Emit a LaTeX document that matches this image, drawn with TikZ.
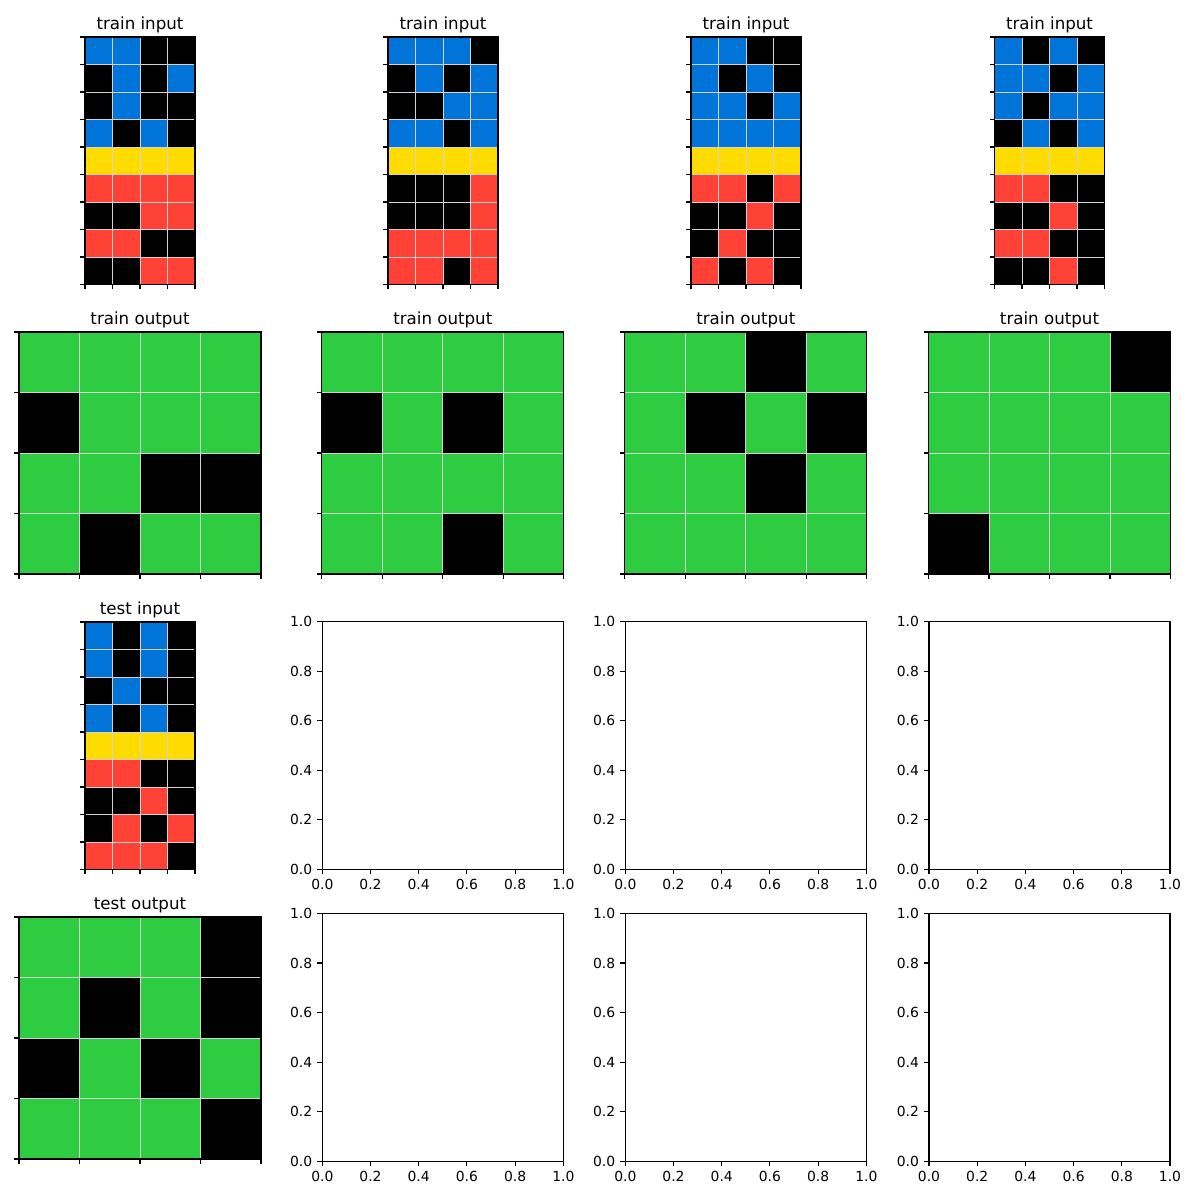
\documentclass[tikz,border=0pt]{standalone}
\usepackage{fontspec}
\setmainfont{DejaVu Sans}
\usetikzlibrary{positioning}
\definecolor{Arc0}{HTML}{000000}
\definecolor{Arc1}{HTML}{0074D9}
\definecolor{Arc2}{HTML}{FF4136}
\definecolor{Arc3}{HTML}{2ECC40}
\definecolor{Arc4}{HTML}{FFDC00}
\definecolor{GridGray}{HTML}{D3D3D3}

% grid panel: name, centre x, top y, columns, rows, cell, title, rows of colour codes
\newcommand{\arcpanel}[8]{%
  \pgfmathsetmacro{\gridw}{#4*#6}
  \pgfmathsetmacro{\gridh}{#5*#6}
  \pgfmathsetmacro{\gridx}{#2-\gridw/2}
  \foreach \rowdata [count=\rr from 0] in {#8}{
    \foreach \v [count=\cc from 0] in \rowdata
      \fill[Arc\v] ({\gridx+\cc*#6},{#3+\rr*#6}) rectangle ++(#6,#6);
  }
  \foreach \cc in {0,...,#4}{
    \draw[gline] ({\gridx+\cc*#6},#3) -- ++(0,\gridh);
    \draw[tk] ({\gridx+\cc*#6},{#3+\gridh}) -- ++(0,4.9);
  }
  \foreach \rr in {0,...,#5}{
    \draw[gline] (\gridx,{#3+\rr*#6}) -- ++(\gridw,0);
    \draw[tk] (\gridx,{#3+\rr*#6}) -- ++(-4.9,0);
  }
  \draw[spine] (\gridx,#3) rectangle ++(\gridw,\gridh);
  \node[ttl] (#1) at (#2,{#3-7.5}) {#7};
}

% empty axes: name, centre x, top y
\newcommand{\emptyaxes}[3]{%
  \pgfmathsetmacro{\axx}{#2-120.5}
  \draw[spine] (\axx,#3) rectangle ++(241,247.6);
  \foreach \k/\lab in {0/0.0,1/0.2,2/0.4,3/0.6,4/0.8,5/1.0}{
    \draw[tk] ({\axx+\k*48.2},{#3+247.6}) -- ++(0,4.9);
    \draw[tk] (\axx,{#3+247.6-\k*49.52}) -- ++(-4.9,0);
    \node[tlab, anchor=north] (#1x\k) at ({\axx+\k*48.2},{#3+257.4}) {\lab};
    \node[tlab, anchor=east] (#1y\k) at ({\axx-9.8},{#3+247.6-\k*49.52}) {\lab};
  }
}

\begin{document}
\begin{tikzpicture}[
    x=0.72pt, y=-0.72pt,
    gline/.style={GridGray, line width=0.5pt},
    spine/.style={black, line width=0.8pt},
    tk/.style={black, line width=0.8pt},
    ttl/.style={anchor=base, inner sep=0pt, font=\fontsize{12}{14}\selectfont},
    tlab/.style={inner sep=0pt, font=\fontsize{10}{12}\selectfont}
  ]
  \useasboundingbox (0,0) rectangle (1200,1200);

  % row 1: train inputs
  \arcpanel{in1}{140}{37}{4}{9}{27.5}{train input}{{1,1,0,0},{0,1,0,1},{0,1,0,0},{1,0,1,0},{4,4,4,4},{2,2,2,2},{0,0,2,2},{2,2,0,0},{0,0,2,2}}
  \arcpanel{in2}{443}{37}{4}{9}{27.5}{train input}{{1,1,1,0},{0,1,0,1},{0,0,1,1},{1,1,0,1},{4,4,4,4},{0,0,0,2},{0,0,0,2},{2,2,2,2},{2,2,0,2}}
  \arcpanel{in3}{746}{37}{4}{9}{27.5}{train input}{{1,1,0,0},{1,0,1,0},{1,1,0,1},{1,1,1,1},{4,4,4,4},{2,2,0,2},{0,0,2,0},{0,2,0,0},{2,0,2,0}}
  \arcpanel{in4}{1049.5}{37}{4}{9}{27.5}{train input}{{1,0,1,0},{1,1,0,1},{1,0,1,1},{0,1,0,1},{4,4,4,4},{2,2,0,0},{0,0,2,0},{2,2,0,0},{0,0,2,0}}

  % row 2: train outputs
  \arcpanel{out1}{140}{332}{4}{4}{60.5}{train output}{{3,3,3,3},{0,3,3,3},{3,3,0,0},{3,0,3,3}}
  \arcpanel{out2}{442.8}{332}{4}{4}{60.5}{train output}{{3,3,3,3},{0,3,0,3},{3,3,3,3},{3,3,0,3}}
  \arcpanel{out3}{745.8}{332}{4}{4}{60.5}{train output}{{3,3,0,3},{3,0,3,0},{3,3,0,3},{3,3,3,3}}
  \arcpanel{out4}{1049.5}{332}{4}{4}{60.5}{train output}{{3,3,3,0},{3,3,3,3},{3,3,3,3},{0,3,3,3}}

  % row 3: test input and unused axes
  \arcpanel{tin}{140}{622}{4}{9}{27.5}{test input}{{1,0,1,0},{1,0,1,0},{0,1,0,0},{1,0,1,0},{4,4,4,4},{2,2,0,0},{0,0,2,0},{0,2,0,2},{2,2,2,0}}
  \emptyaxes{ax32}{442.8}{621.7}
  \emptyaxes{ax33}{745.8}{621.7}
  \emptyaxes{ax34}{1049.5}{621.7}

  % row 4: test output and unused axes
  \arcpanel{tout}{140}{917}{4}{4}{60.5}{test output}{{3,3,3,0},{3,0,3,0},{0,3,0,3},{3,3,3,0}}
  \emptyaxes{ax42}{442.8}{913.5}
  \emptyaxes{ax43}{745.8}{913.5}
  \emptyaxes{ax44}{1049.5}{913.5}
\end{tikzpicture}
\end{document}
